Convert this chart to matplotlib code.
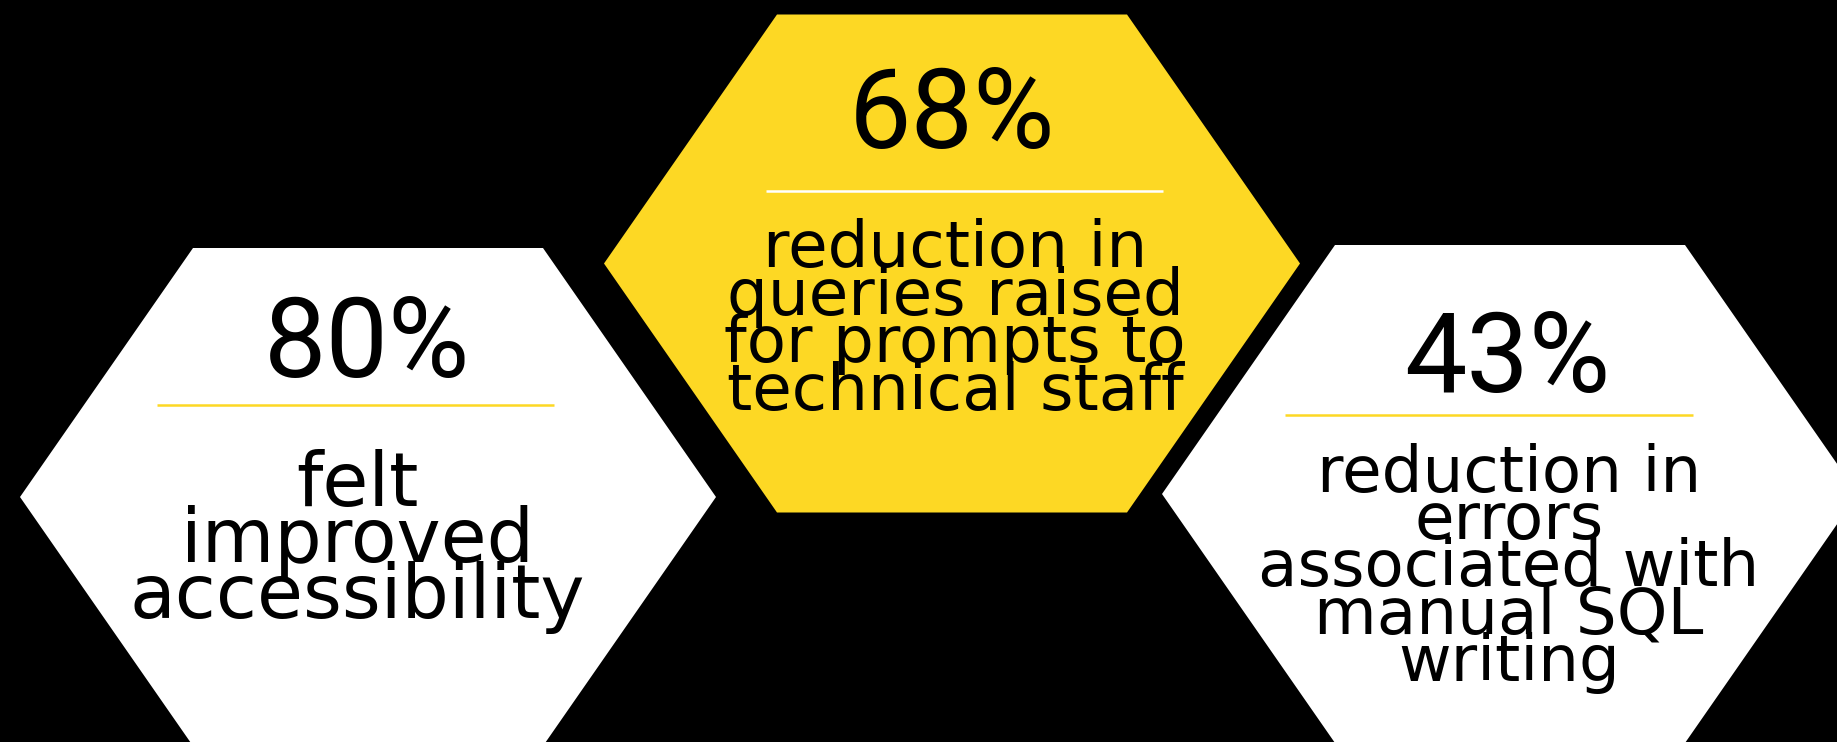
import matplotlib.pyplot as plt
from matplotlib.patches import Polygon

# data
values = ["80%", "68%", "43%"]
labels = [
    ["felt", "improved", "accessibility"],
    ["reduction in", "queries raised", "for prompts to", "technical staff"],
    ["reduction in", "errors", "associated with", "manual SQL", "writing"],
]
fill_colors = ["white", "#FDD824", "white"]
rule_colors = ["#FDD824", "white", "#FDD824"]

# layout (pixels, y down)
centers = [(368, 497), (952, 263.5), (1510, 494)]
half_w, top_half_w, half_h = 348, 175, 249
value_pos = [(367, 377), (952, 148), (1507, 392)]
rules = [(157, 554, 405), (766, 1163, 191), (1285, 1693, 415)]
label_x = [357, 955, 1509]
label_y0 = [506, 267, 492]
label_step = [56, 47.7, 47.2]
label_size = [53.7, 46.4, 46.4]

fig = plt.figure(figsize=(18.37, 7.42), dpi=100, facecolor="black")
ax = fig.add_axes([0, 0, 1, 1])
ax.set_xlim(0, 1837)
ax.set_ylim(742, 0)
ax.set_facecolor("black")
ax.axis("off")

for i in range(3):
    cx, cy = centers[i]
    hexagon = [(cx - top_half_w, cy - half_h), (cx + top_half_w, cy - half_h),
               (cx + half_w, cy), (cx + top_half_w, cy + half_h),
               (cx - top_half_w, cy + half_h), (cx - half_w, cy)]
    ax.add_patch(Polygon(hexagon, closed=True, facecolor=fill_colors[i],
                         edgecolor="none"))

    vx, vy = value_pos[i]
    ax.text(vx, vy, values[i], ha="center", va="baseline", fontsize=80,
            family=["Roboto", "DejaVu Sans"], color="black")

    x0, x1, ry = rules[i]
    ax.plot([x0, x1], [ry, ry], color=rule_colors[i], lw=1.8,
            solid_capstyle="butt")

    for j, line in enumerate(labels[i]):
        ax.text(label_x[i], label_y0[i] + j * label_step[i], line,
                ha="center", va="baseline", fontsize=label_size[i],
                family="DejaVu Sans", color="black")

fig.savefig("out.png", dpi=100, facecolor="black")
